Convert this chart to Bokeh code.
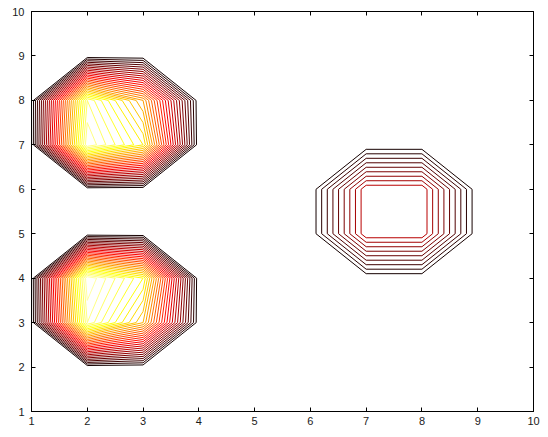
import numpy as np
from bokeh.plotting import figure
from bokeh.models import Range1d, FixedTicker, LinearAxis, CustomLabelingPolicy
from bokeh.embed import file_html
from bokeh.resources import INLINE

# grid of the contoured matrix
grid_x = [1, 2, 3, 4, 5, 6, 7, 8, 9, 10]
grid_y = [1, 2, 3, 4, 5, 6, 7, 8, 9, 10]

# non-zero cells of the matrix (all other cells are 0)
peak_x = [2, 2, 3, 3, 2, 2, 3, 3, 7, 7, 8, 8]
peak_y = [7, 8, 7, 8, 4, 3, 4, 3, 5, 6, 5, 6]
peak_z = [30, 28, 24, 20, 31, 29, 25, 21, 9.9, 9.9, 9.9, 9.9]

# contour levels and colour scale limits
levels = list(range(1, 34))
color_limits = [0, 33]

# axis ticks
ticks = [1, 2, 3, 4, 5, 6, 7, 8, 9, 10]

z = np.zeros((len(grid_y), len(grid_x)))
for px, py, pz in zip(peak_x, peak_y, peak_z):
    z[grid_y.index(py), grid_x.index(px)] = pz


def hot(f):
    f = min(max(f, 0.0), 1.0)
    r = min(1.0, f / 0.375)
    g = min(1.0, max(0.0, (f - 0.375) / 0.375))
    b = min(1.0, max(0.0, (f - 0.75) / 0.25))
    return "#%02x%02x%02x" % (int(round(r * 255)), int(round(g * 255)), int(round(b * 255)))


cmin, cmax = color_limits
colors = [hot((lv - cmin) / (cmax - cmin)) for lv in levels]

p = figure(width=548, height=437,
           x_range=Range1d(1, 10), y_range=Range1d(1, 10),
           output_backend="svg", toolbar_location=None,
           min_border_left=31, min_border_right=8,
           min_border_top=10, min_border_bottom=26)
p.grid.visible = False
p.outline_line_color = "black"
p.outline_line_width = 1
p.outline_line_alpha = 1.0
p.background_fill_color = "white"
p.border_fill_color = "white"

p.contour(grid_x, grid_y, z, levels, line_color=colors, line_width=1)

p.add_layout(LinearAxis(), "above")
p.add_layout(LinearAxis(), "right")

for ax in p.axis:
    ax.ticker = FixedTicker(ticks=ticks)
    ax.major_tick_in = 4
    ax.major_tick_out = 0
    ax.minor_tick_line_color = None
    ax.axis_line_color = "black"
    ax.major_tick_line_color = "black"
    ax.major_label_text_font = "Liberation Sans"
    ax.major_label_text_font_size = "11px"
    ax.major_label_text_color = "#1a1a1a"

p.xaxis[0].major_label_standoff = 6
p.yaxis[0].major_label_standoff = 7
for ax in (p.above[0], p.right[0]):
    ax.major_label_policy = CustomLabelingPolicy(
        code="for (const i of indices) { indices.unset(i) }\nreturn indices")
    ax.major_label_standoff = 0

open("out.html", "w").write(file_html(p, INLINE))
